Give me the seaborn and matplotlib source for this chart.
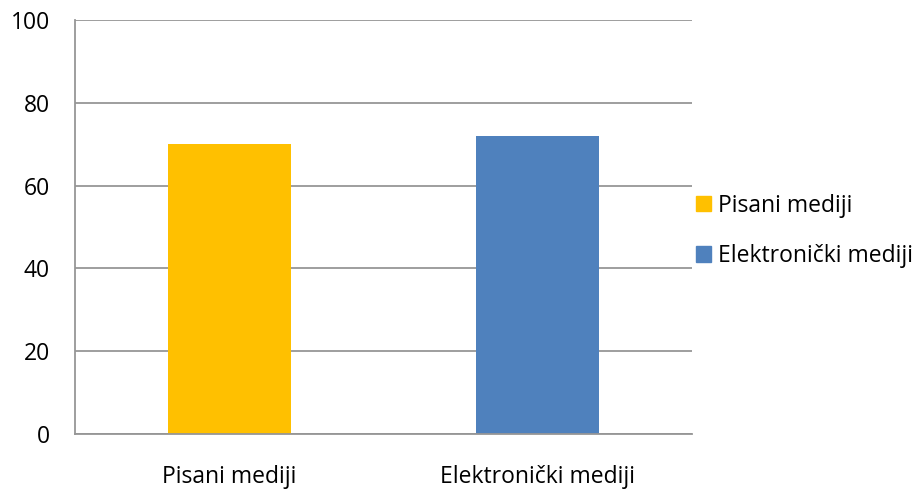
import matplotlib
matplotlib.use("Agg")
import matplotlib.pyplot as plt
import matplotlib.patches as mpatches
import seaborn as sns
import pandas as pd

# data
categories = ["Pisani mediji", "Elektronički mediji"]
values = [70, 72]
colors = ["#FFC000", "#4F81BD"]
yticks = [0, 20, 40, 60, 80, 100]

sns.set_style("white")
plt.rcParams["font.family"] = ["Open Sans", "DejaVu Sans"]
plt.rcParams["font.size"] = 16.5
plt.rcParams["text.color"] = "black"
plt.rcParams["xtick.color"] = "black"
plt.rcParams["ytick.color"] = "black"

df = pd.DataFrame({"kategorija": categories, "vrijednost": values})

fig = plt.figure(figsize=(9.18, 4.9), dpi=100)
ax = fig.add_axes([75 / 918, 1 - 434 / 490, 617 / 918, 414 / 490])

sns.barplot(data=df, x="kategorija", y="vrijednost", hue="kategorija",
            palette=colors, width=0.4, saturation=1, legend=False,
            linewidth=0, ax=ax)

grid_col = "#969696"
ax.set_ylim(0, 100)
ax.set_xlim(-0.5, 1.5)
ax.set_yticks(yticks)
ax.yaxis.grid(True, color=grid_col, linewidth=1.3)
ax.set_axisbelow(True)
for s in ["top", "right"]:
    ax.spines[s].set_visible(False)
for s in ["left", "bottom"]:
    ax.spines[s].set_color(grid_col)
    ax.spines[s].set_linewidth(1.3)

# category boundary ticks on the x axis
ax.set_xticks([-0.5, 0.5, 1.5], minor=True)
ax.set_xticks([0, 1])
ax.set_xticklabels(categories)
ax.tick_params(axis="x", which="major", length=0, pad=22, labelcolor="black")
ax.tick_params(axis="x", which="minor", length=6, color=grid_col, width=1.3)
ax.tick_params(axis="y", length=8, color=grid_col, width=1.3, pad=10, labelcolor="black")
ax.set_xlabel("")
ax.set_ylabel("")

handles = [mpatches.Patch(color=c, label=l) for c, l in zip(colors, categories)]
fig.legend(handles=handles, loc="center left", bbox_to_anchor=(696 / 918, 1 - 231 / 490),
           frameon=False, borderpad=0, borderaxespad=0,
           handlelength=0.65, handleheight=0.65, handletextpad=0.3,
           labelspacing=1.15, fontsize=16.5)

fig.savefig("out.png", dpi=100)
